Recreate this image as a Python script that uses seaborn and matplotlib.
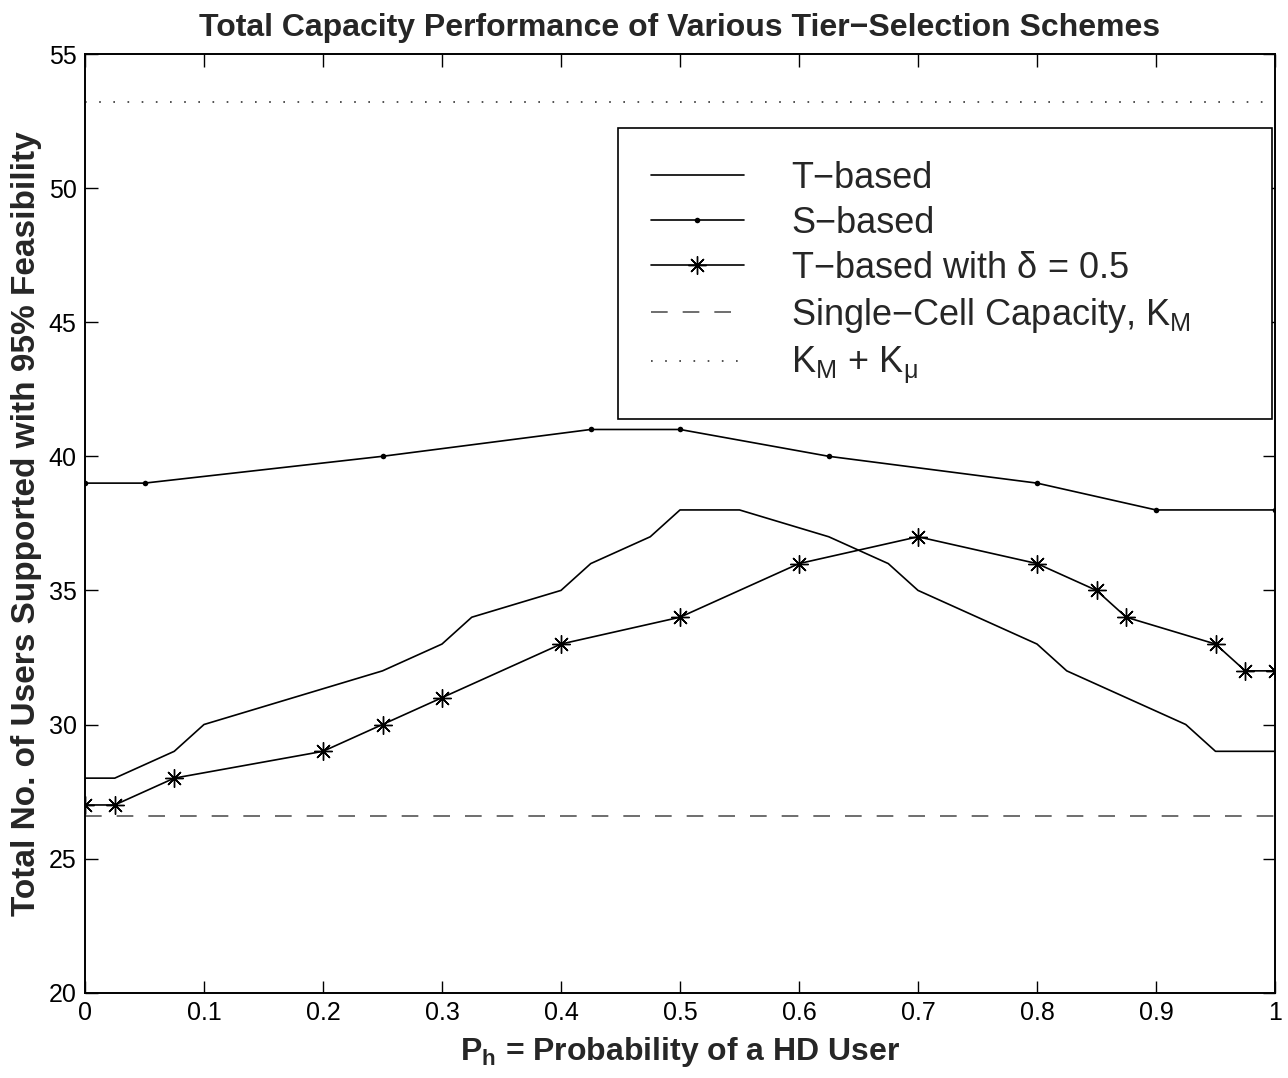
import matplotlib
matplotlib.use("Agg")
import matplotlib.pyplot as plt
import seaborn as sns
import pandas as pd

# ---- data ----
t_x = [0, 0.025, 0.075, 0.1, 0.25, 0.3, 0.325, 0.4, 0.425, 0.475, 0.5, 0.55,
       0.625, 0.675, 0.7, 0.8, 0.825, 0.925, 0.95, 1.0]
t_y = [28, 28, 29, 30, 32, 33, 34, 35, 36, 37, 38, 38, 37, 36, 35, 33, 32, 30, 29, 29]

s_x = [0, 0.05, 0.25, 0.425, 0.5, 0.625, 0.8, 0.9, 1.0]
s_y = [39, 39, 40, 41, 41, 40, 39, 38, 38]

d_x = [0, 0.025, 0.075, 0.2, 0.25, 0.3, 0.4, 0.5, 0.6, 0.7, 0.8, 0.85, 0.875,
       0.95, 0.975, 1.0]
d_y = [27, 27, 28, 29, 30, 31, 33, 34, 36, 37, 36, 35, 34, 33, 32, 32]

single_cell = 26.6
km_plus_kmu = 53.2

x_ticks = [0, 0.1, 0.2, 0.3, 0.4, 0.5, 0.6, 0.7, 0.8, 0.9, 1.0]
x_tick_labels = ["0", "0.1", "0.2", "0.3", "0.4", "0.5", "0.6", "0.7", "0.8", "0.9", "1"]
y_ticks = [20, 25, 30, 35, 40, 45, 50, 55]
y_tick_labels = ["20", "25", "30", "35", "40", "45", "50", "55"]

labels = ["T\u2212based", "S\u2212based", "T\u2212based with $\\delta$ = 0.5",
          "Single\u2212Cell Capacity, $K_M$",
          "$K_M$ + $K_\\mu$"]
title = "Total Capacity Performance of Various Tier\u2212Selection Schemes"
xlabel = "$\\mathbf{P_h}$ = Probability of a HD User"
ylabel = "Total No. of Users Supported with 95% Feasibility"

# ---- style ----
sns.set_style("white")
plt.rcParams["font.family"] = ["Liberation Sans", "DejaVu Sans"]
plt.rcParams["mathtext.fontset"] = "custom"
plt.rcParams["mathtext.rm"] = "Liberation Sans"
plt.rcParams["mathtext.it"] = "Liberation Sans:italic"
plt.rcParams["mathtext.bf"] = "Liberation Sans:bold"
plt.rcParams["mathtext.default"] = "regular"

fig = plt.figure(figsize=(12.88, 10.78), dpi=100)
ax = fig.add_axes([85 / 1288, 1 - 992.7 / 1078, 1190 / 1288, 938.7 / 1078])

df_t = pd.DataFrame({"x": t_x, "y": t_y})
df_s = pd.DataFrame({"x": s_x, "y": s_y})
df_d = pd.DataFrame({"x": d_x, "y": d_y})

lw = 1.2
sns.lineplot(data=df_t, x="x", y="y", ax=ax, color="black", lw=lw,
             label=labels[0], estimator=None, sort=False)
sns.lineplot(data=df_s, x="x", y="y", ax=ax, color="black", lw=lw,
             marker="o", markersize=4, markeredgewidth=0,
             label=labels[1], estimator=None, sort=False)
sns.lineplot(data=df_d, x="x", y="y", ax=ax, color="black", lw=lw,
             marker=(8, 2, 0), markersize=13, markeredgewidth=1.0,
             markeredgecolor="black",
             label=labels[2], estimator=None, sort=False)
ax.axhline(single_cell, color="#555555", lw=1.2, linestyle=(0, (10, 9)),
           label=labels[3])
ax.axhline(km_plus_kmu, color="#333333", lw=1.2, linestyle=(0, (1, 7.5)),
           label=labels[4])

ax.set_xlim(0, 1)
ax.set_ylim(20, 55)
ax.set_xticks(x_ticks)
ax.set_xticklabels(x_tick_labels)
ax.set_yticks(y_ticks)
ax.set_yticklabels(y_tick_labels)
ax.tick_params(direction="in", length=9, width=1, top=True, right=True,
               bottom=True, left=True, labelsize=18, pad=6, colors="black")
for sp in ax.spines.values():
    sp.set_visible(True)
    sp.set_color("black")
    sp.set_linewidth(1.4)

ax.set_title(title, fontsize=23, fontweight="bold", pad=13)
ax.set_xlabel(xlabel, fontsize=23, fontweight="bold", labelpad=7)
ax.set_ylabel(ylabel, fontsize=24, fontweight="bold", labelpad=5)

leg = ax.legend(loc="upper left", bbox_to_anchor=(533 / 1190, 0.0, 654 / 1190, 0.921),
                mode="expand",
                borderaxespad=0, fontsize=26, frameon=True, fancybox=False,
                edgecolor="black", handlelength=2.6, handletextpad=1.3,
                labelspacing=0.28, borderpad=0.9)
leg.get_frame().set_linewidth(1.2)
leg.get_frame().set_alpha(1)

fig.savefig("out.png", dpi=100, facecolor="white")
